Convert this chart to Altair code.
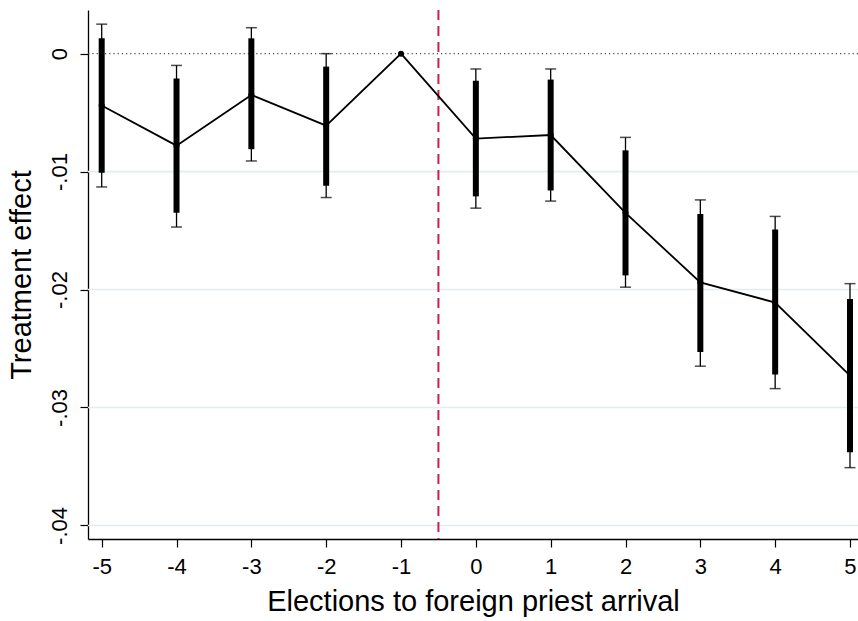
import altair as alt
import pandas as pd

# Event-study estimates: elections relative to the foreign priest's arrival
periods = [-5, -4, -3, -2, -1, 0, 1, 2, 3, 4, 5]
estimate = [-0.0044, -0.0078, -0.0035, -0.0061, 0.0, -0.0072, -0.0069, -0.0135, -0.0194, -0.0211, -0.0273]
# 90% interval (thick bars)
ci90_low = [-0.0101, -0.0135, -0.0081, -0.0112, None, -0.0121, -0.0116, -0.0188, -0.0253, -0.0272, -0.0338]
ci90_high = [0.0013, -0.0021, 0.0013, -0.0011, None, -0.0023, -0.0022, -0.0082, -0.0136, -0.0149, -0.0208]
# 95% interval (thin capped whiskers)
ci95_low = [-0.0113, -0.0147, -0.0091, -0.0122, None, -0.0131, -0.0125, -0.0198, -0.0265, -0.0284, -0.0351]
ci95_high = [0.0025, -0.0010, 0.0022, 0.0000, None, -0.0013, -0.0013, -0.0071, -0.0124, -0.0138, -0.0195]

grid_values = [-0.01, -0.02, -0.03, -0.04]
y_ticks = [0, -0.01, -0.02, -0.03, -0.04]
x_ticks = periods
cutoff = [-0.5]
zero_line = [0.0]

FONT = "Liberation Sans"

df = pd.DataFrame({
    "period": periods,
    "estimate": estimate,
    "lo90": ci90_low,
    "hi90": ci90_high,
    "lo95": ci95_low,
    "hi95": ci95_high,
})
ci = df.dropna()

x_scale = alt.Scale(domain=[-5.183, 5.107], nice=False, zero=False)
y_scale = alt.Scale(domain=[-0.04115, 0.0037], nice=False, zero=False)

x_axis = alt.Axis(
    title="Elections to foreign priest arrival",
    values=x_ticks,
    labelExpr="toString(datum.value)",
    grid=False,
    domainColor="#000000",
    domainWidth=1.3,
    tickColor="#000000",
    tickSize=8,
    tickWidth=1.2,
    labelFont=FONT,
    labelFontSize=22,
    labelColor="#000000",
    labelPadding=9,
    titleFont=FONT,
    titleFontSize=29,
    titleFontWeight="normal",
    titleColor="#000000",
    titlePadding=10,
)

y_axis = alt.Axis(
    title="Treatment effect",
    values=y_ticks,
    labelExpr="datum.value == 0 ? '0' : '-.0' + toString(round(-datum.value * 100))",
    grid=False,
    domainColor="#000000",
    domainWidth=1.3,
    tickColor="#000000",
    tickSize=8,
    tickWidth=1.2,
    labelAngle=270,
    labelAlign="center",
    labelBaseline="bottom",
    labelFont=FONT,
    labelFontSize=22,
    labelColor="#000000",
    labelPadding=9,
    titleFont=FONT,
    titleFontSize=29,
    titleFontWeight="normal",
    titleColor="#000000",
    titlePadding=12,
)

base = alt.Chart(df)

grid = alt.Chart(pd.DataFrame({"g": grid_values})).mark_rule(
    color="#e3edf0", strokeWidth=1.6
).encode(y=alt.Y("g:Q", scale=y_scale, axis=y_axis))

zero = alt.Chart(pd.DataFrame({"z": zero_line})).mark_rule(
    color="#4a4a4a", strokeWidth=1.1, strokeDash=[1.2, 3]
).encode(y=alt.Y("z:Q", scale=y_scale))

vline = alt.Chart(pd.DataFrame({"c": cutoff})).mark_rule(
    color="#d01c4b", strokeWidth=2, strokeDash=[10, 6]
).encode(x=alt.X("c:Q", scale=x_scale, axis=x_axis))

thin = alt.Chart(ci).mark_rule(color="#000000", strokeWidth=1.3).encode(
    x=alt.X("period:Q", scale=x_scale),
    y=alt.Y("lo95:Q", scale=y_scale),
    y2="hi95:Q",
)

cap_lo = alt.Chart(ci).mark_tick(
    color="#000000", orient="horizontal", size=11, thickness=1.5
).encode(x=alt.X("period:Q", scale=x_scale), y=alt.Y("lo95:Q", scale=y_scale))

cap_hi = alt.Chart(ci).mark_tick(
    color="#000000", orient="horizontal", size=11, thickness=1.5
).encode(x=alt.X("period:Q", scale=x_scale), y=alt.Y("hi95:Q", scale=y_scale))

thick = alt.Chart(ci).mark_rule(color="#000000", strokeWidth=6).encode(
    x=alt.X("period:Q", scale=x_scale),
    y=alt.Y("lo90:Q", scale=y_scale),
    y2="hi90:Q",
)

line = base.mark_line(color="#000000", strokeWidth=1.8).encode(
    x=alt.X("period:Q", scale=x_scale),
    y=alt.Y("estimate:Q", scale=y_scale),
)

points = base.mark_point(filled=True, color="#000000", size=36, opacity=1).encode(
    x=alt.X("period:Q", scale=x_scale),
    y=alt.Y("estimate:Q", scale=y_scale),
)

chart = alt.layer(
    grid, zero, vline, thin, cap_lo, cap_hi, thick, line, points
).properties(
    width=770,
    height=529,
    autosize=alt.AutoSizeParams(type="none"),
    padding={"left": 88, "top": 10, "right": 0, "bottom": 82},
    background="#ffffff",
).configure_view(stroke=None)

chart.save("out.html", embed_options={"renderer": "svg", "actions": False})
